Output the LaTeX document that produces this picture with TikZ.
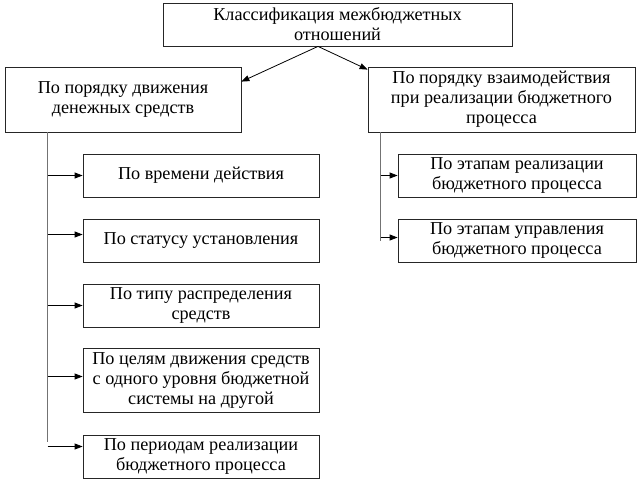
\documentclass[tikz,border=0pt]{standalone}
\usepackage{fontspec}
\setmainfont{Liberation Serif}
\usetikzlibrary{%
        arrows.meta,
        positioning
    }
\tikzset{%
    box/.style={%
        draw=black!85, line width=0.8pt, rectangle, align=center,
        inner sep=0pt, font=\fontsize{18.2}{20}\selectfont
    },
    link/.style={%
        -{Triangle[length=8pt, width=6pt]}, line width=0.8pt
    },
    spine/.style={%
        draw, black!55, line width=0.9pt
    }
}

\begin{document}
\begin{tikzpicture}[x=1pt, y=-1pt]

    \useasboundingbox (0, 0) rectangle (639, 483);

    % Top
    \node[box, minimum width=349pt, minimum height=43pt] (top) at (337.5, 24.5)
        {Классификация межбюджетных\\отношений};

    \node[box, minimum width=236pt, minimum height=65pt] (money) at (123, 99.5)
        {По порядку движения\\денежных средств};

    \node[box, minimum width=267pt, minimum height=65pt] (process) at (501.5, 99.5)
        {По порядку взаимодействия\\при реализации бюджетного\\процесса};

    \draw[link] ([xshift=-19.5pt] top.south) -- ([yshift=-15pt] money.north east);
    \draw[link] ([xshift=-19.5pt] top.south) -- ([yshift=-3pt] process.north west);

    % Left branch
    \node[box, minimum width=236pt, minimum height=43pt] (time) at (201, 175.5)
        {По времени действия};
    \node[box, minimum width=236pt, minimum height=43pt] (status) at (201, 240.5)
        {По статусу установления};
    \node[box, minimum width=236pt, minimum height=43pt] (type) at (201, 305.5)
        {По типу распределения\\средств};
    \node[box, minimum width=236pt, minimum height=64pt] (goals) at (201, 380.5)
        {По целям движения средств\\с одного уровня бюджетной\\системы на другой};
    \node[box, minimum width=236pt, minimum height=43pt] (periods) at (201, 456.5)
        {По периодам реализации\\бюджетного процесса};

    \coordinate (lspine) at (47.5, 132);
    \path[spine] (lspine) -- (47.5, 442);
    \foreach \n/\dy in {time/0, status/6, type/0, goals/4, periods/10}{%
        \draw[link] ([yshift=\dy pt] lspine |- \n.west) -- ([yshift=\dy pt] \n.west);
    };

    % Right branch
    \node[box, minimum width=238pt, minimum height=43pt] (stages) at (517, 175.5)
        {По этапам реализации\\бюджетного процесса};
    \node[box, minimum width=238pt, minimum height=43pt] (control) at (517, 240.5)
        {По этапам управления\\бюджетного процесса};

    \coordinate (rspine) at (380.5, 132);
    \path[spine] (rspine) -- (rspine |- control.west);
    \foreach \n/\dy in {stages/0, control/3}{%
        \draw[link] ([yshift=\dy pt] rspine |- \n.west) -- ([yshift=\dy pt] \n.west);
    };

\end{tikzpicture}
\end{document}
